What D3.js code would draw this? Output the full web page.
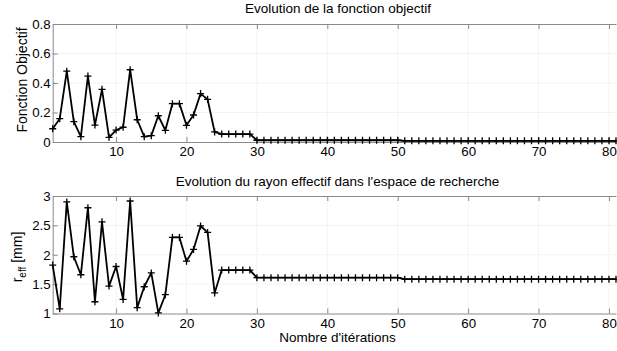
<!DOCTYPE html>
<html><head><meta charset="utf-8">
<script src="https://cdn.jsdelivr.net/npm/d3@7"></script>
<style>body{margin:0;background:#fff}svg{display:block}text{font-family:"Liberation Sans",Arial,sans-serif;fill:#000}</style>
</head><body><svg id="c" width="617" height="351"></svg>
<script>
const iterations = d3.range(1, 82);
const objectif = [0.09,0.158,0.48,0.138,0.036,0.447,0.115,0.357,0.032,0.081,
0.10,0.49,0.151,0.036,0.043,0.178,0.079,0.26,0.26,0.113,
0.183,0.328,0.289,0.068,0.054,0.054,0.054,0.054,0.054,0.012,
0.012,0.012,0.012,0.012,0.012,0.012,0.012,0.012,0.012,0.012,
0.012,0.012,0.012,0.012,0.012,0.012,0.012,0.012,0.012,0.012,
0.008,0.008,0.008,0.008,0.008,0.008,0.008,0.008,0.008,0.008,
0.008,0.008,0.008,0.008,0.008,0.008,0.008,0.008,0.008,0.008,
0.008,0.008,0.008,0.008,0.008,0.008,0.008,0.008,0.008,0.008,0.008];
const rayon = [1.824,1.08,2.90,1.966,1.66,2.80,1.20,2.56,1.466,1.80,
1.24,2.915,1.10,1.455,1.69,1.01,1.32,2.295,2.295,1.89,
2.09,2.49,2.38,1.35,1.74,1.74,1.74,1.74,1.74,1.61,
1.61,1.61,1.61,1.61,1.61,1.61,1.61,1.61,1.61,1.61,
1.61,1.61,1.61,1.61,1.61,1.61,1.61,1.61,1.61,1.61,
1.585,1.585,1.585,1.585,1.585,1.585,1.585,1.585,1.585,1.585,
1.585,1.585,1.585,1.585,1.585,1.585,1.585,1.585,1.585,1.585,
1.585,1.585,1.585,1.585,1.585,1.585,1.585,1.585,1.585,1.585,1.585];
const xTicks = [10,20,30,40,50,60,70,80];
const yTicksTop = [0,0.2,0.4,0.6,0.8];
const yTicksBot = [1,1.5,2,2.5,3];
const titleTop = "Evolution de la fonction objectif";
const titleBot = "Evolution du rayon effectif dans l'espace de recherche";
const xLabel = "Nombre d'itérations";

const svg = d3.select("#c");
const x = d3.scaleLinear().domain([1,81]).range([52.7,616]);
const FS = "13.5px";
const TFS = "13.3px";
const axisCol = "#8a8a8a";

function panel(data, yDomain, yRange, yTicks, fmt){
  const y = d3.scaleLinear().domain(yDomain).range(yRange);
  const g = svg.append("g");
  const [y0,y1] = [y.range()[0], y.range()[1]];
  g.selectAll(".gx").data(xTicks).join("line")
    .attr("x1",d=>x(d)).attr("x2",d=>x(d)).attr("y1",y1).attr("y2",y0)
    .attr("stroke","#e2e2e2").attr("stroke-width",0.8).attr("stroke-dasharray","1,1");
  g.selectAll(".gy").data(yTicks.slice(1,-1)).join("line")
    .attr("x1",x.range()[0]).attr("x2",x.range()[1]).attr("y1",d=>y(d)).attr("y2",d=>y(d))
    .attr("stroke","#e2e2e2").attr("stroke-width",0.8).attr("stroke-dasharray","1,1");
  const xb = g.append("g").attr("transform",`translate(0,${y0})`)
    .call(d3.axisBottom(x).tickValues(xTicks).tickSizeInner(-5).tickSizeOuter(0).tickPadding(5));
  const xt = g.append("g").attr("transform",`translate(0,${y1})`)
    .call(d3.axisTop(x).tickValues(xTicks).tickSizeInner(-5).tickSizeOuter(0).tickFormat(""));
  const yl = g.append("g").attr("transform",`translate(${x.range()[0]},0)`)
    .call(d3.axisLeft(y).tickValues(yTicks).tickSizeInner(-5).tickSizeOuter(0).tickPadding(2).tickFormat(fmt));
  [xb,xt,yl].forEach(a=>{
    a.select(".domain").attr("stroke",axisCol).attr("stroke-width",1);
    a.selectAll(".tick line").attr("stroke",axisCol);
    a.selectAll(".tick text").attr("font-size",TFS).attr("font-family","Liberation Sans, Arial, sans-serif").attr("fill","#000");
  });
  const line = d3.line().x((d,i)=>x(iterations[i])).y(d=>y(d));
  g.append("path").datum(data).attr("d",line).attr("fill","none")
    .attr("stroke","#000").attr("stroke-width",1.8).attr("stroke-linejoin","round");
  const s = 3.5;
  g.selectAll(".m").data(data).join("path")
    .attr("d",(d,i)=>{const cx=x(iterations[i]), cy=y(d);
      return `M${cx-s},${cy}H${cx+s}M${cx},${cy-s}V${cy+s}`;})
    .attr("stroke","#000").attr("stroke-width",1.3);
  return y;
}

panel(objectif,[0,0.8],[142,24],yTicksTop,d=>d===0?"0":d3.format(".1f")(d));
panel(rayon,[1,3],[313.5,196],yTicksBot,d=>String(d));

svg.append("text").attr("x",338).attr("y",13).attr("text-anchor","middle").attr("font-size",FS).text(titleTop);
svg.append("text").attr("x",337.5).attr("y",186).attr("text-anchor","middle").attr("font-size",FS).text(titleBot);
svg.append("text").attr("x",337.5).attr("y",342).attr("text-anchor","middle").attr("font-size",FS).text(xLabel);
svg.append("text").attr("transform","translate(26.5,80) rotate(-90)").attr("text-anchor","middle").attr("font-size","14px").text("Fonction Objectif");
const yl2 = svg.append("text").attr("transform","translate(21.5,257) rotate(-90)").attr("text-anchor","middle").attr("font-size","14px");
yl2.append("tspan").text("r");
yl2.append("tspan").attr("dy","4").attr("font-size","10px").text("eff");
yl2.append("tspan").attr("dy","-4").text(" [mm]");
</script></body></html>
